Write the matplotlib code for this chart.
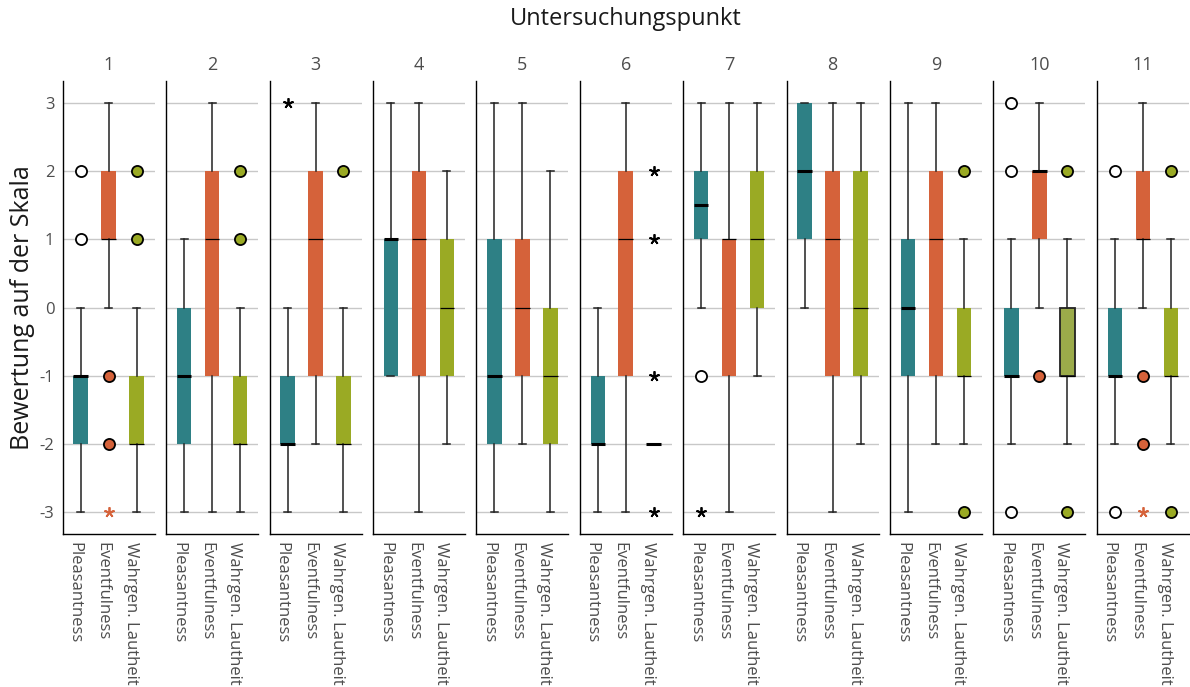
import matplotlib
matplotlib.use('Agg')
import matplotlib.pyplot as plt
import matplotlib.transforms as mtransforms

plt.rcParams['font.family'] = ['Open Sans', 'DejaVu Sans']
plt.rcParams['axes.unicode_minus'] = False

# Survey points and the three rated scales
points = [str(i) for i in range(1, 12)]
scales = ['Pleasantness', 'Eventfulness', 'Wahrgen. Lautheit']

# Box statistics per scale, one value per survey point
q1 = {
    'Pleasantness':      [-2, -2, -2, -1, -2, -2, 1, 1, -1, -1, -1],
    'Eventfulness':      [1, -1, -1, -1, -1, -1, -1, -1, -1, 1, 1],
    'Wahrgen. Lautheit': [-2, -2, -2, -1, -2, -2, 0, -1, -1, -1, -1],
}
median = {
    'Pleasantness':      [-1, -1, -2, 1, -1, -2, 1.5, 2, 0, -1, -1],
    'Eventfulness':      [1, 1, 1, 1, 0, 1, 1, 1, 1, 2, 1],
    'Wahrgen. Lautheit': [-2, -2, -2, 0, -1, -2, 1, 0, -1, -1, -1],
}
q3 = {
    'Pleasantness':      [-1, 0, -1, 1, 1, -1, 2, 3, 1, 0, 0],
    'Eventfulness':      [2, 2, 2, 2, 1, 2, 1, 2, 2, 2, 2],
    'Wahrgen. Lautheit': [-1, -1, -1, 1, 0, -2, 2, 2, 0, 0, 0],
}
whisker_low = {
    'Pleasantness':      [-3, -3, -3, -1, -3, -3, 0, 0, -3, -2, -2],
    'Eventfulness':      [0, -3, -2, -3, -2, -3, -3, -3, -2, 0, 0],
    'Wahrgen. Lautheit': [-3, -3, -3, -2, -3, -2, -1, -2, -2, -2, -2],
}
whisker_high = {
    'Pleasantness':      [0, 1, 0, 3, 3, 0, 3, 3, 3, 1, 1],
    'Eventfulness':      [3, 3, 3, 3, 3, 3, 3, 3, 3, 3, 3],
    'Wahrgen. Lautheit': [0, 0, 0, 2, 2, -2, 3, 3, 1, 1, 1],
}

# Outliers (circles) and extreme values (asterisks): (point index, value)
outliers = {
    'Pleasantness':      [(0, 1), (0, 2), (6, -1), (9, 3), (9, 2), (9, -3), (10, 2), (10, -3)],
    'Eventfulness':      [(0, -1), (0, -2), (9, -1), (10, -1), (10, -2)],
    'Wahrgen. Lautheit': [(0, 1), (0, 2), (1, 1), (1, 2), (2, 2), (8, 2), (8, -3),
                          (9, 2), (9, -3), (10, 2), (10, -3)],
}
extremes = {
    'Pleasantness':      [(2, 3), (6, -3)],
    'Eventfulness':      [(0, -3), (10, -3)],
    'Wahrgen. Lautheit': [(5, 2), (5, 1), (5, -1), (5, -3)],
}

colors = {'Pleasantness': '#2e8085', 'Eventfulness': '#d5623a', 'Wahrgen. Lautheit': '#9aaa24'}
flier_face = {'Pleasantness': 'white', 'Eventfulness': '#d5623a', 'Wahrgen. Lautheit': '#9aaa24'}
star_color = {'Pleasantness': 'black', 'Eventfulness': '#d5623a', 'Wahrgen. Lautheit': 'black'}
thick_median = {'Pleasantness': True, 'Eventfulness': False, 'Wahrgen. Lautheit': False}
thick_extra = [(5, 'Wahrgen. Lautheit'), (9, 'Eventfulness')]
outlined = [(9, 'Wahrgen. Lautheit')]

grey = '#4d4d4d'

fig, axes = plt.subplots(1, 11, sharey=True, figsize=(11.9, 6.87), dpi=100)
fig.subplots_adjust(left=0.0527, right=0.999, top=0.882, bottom=0.2227, wspace=0.124)

# nudge the rotated category labels a little to the left of their ticks
label_shift = mtransforms.ScaledTranslation(-6 / 100, 0, fig.dpi_scale_trans)

for p, ax in enumerate(axes):
    for k, s in enumerate(scales):
        pos = k + 1
        stats = dict(q1=q1[s][p], med=median[s][p], q3=q3[s][p],
                     whislo=whisker_low[s][p], whishi=whisker_high[s][p], fliers=[])
        thick = thick_median[s] or (p, s) in thick_extra
        face = colors[s]
        edge = 'none'
        if (p, s) in outlined:
            face = '#9bab4a'
            edge = '#222222'
        ax.bxp([stats], positions=[pos], widths=0.52, patch_artist=True,
               showfliers=False, capwidths=0.25,
               boxprops=dict(facecolor=face, edgecolor=edge, linewidth=1.3),
               medianprops=dict(color='black', linewidth=2.2 if thick else 0.9,
                                solid_capstyle='butt'),
               whiskerprops=dict(color='#222222', linewidth=1.1),
               capprops=dict(color='#222222', linewidth=1.1))

        ys = [v for i, v in outliers[s] if i == p]
        if ys:
            ax.plot([pos] * len(ys), ys, 'o', ms=8, mfc=flier_face[s],
                    mec='black', mew=1.3, zorder=4)
        ys = [v for i, v in extremes[s] if i == p]
        if ys:
            ax.plot([pos] * len(ys), ys, ls='none', marker=(5, 2, 0), ms=7.5,
                    mec=star_color[s], mew=1.3, zorder=4)

    ax.set_xlim(0.355, 3.645)
    ax.set_ylim(-3.32, 3.32)
    ax.set_yticks(range(-3, 4))
    ax.set_xticks([1, 2, 3])
    ax.set_xticklabels(scales, rotation=-90, ha='center', va='top',
                       fontsize=12, color=grey)
    ax.yaxis.grid(True, color='#c8c8c8', linewidth=1.0)
    ax.set_axisbelow(True)
    for side in ('top', 'right'):
        ax.spines[side].set_visible(False)
    for side in ('left', 'bottom'):
        ax.spines[side].set_color('black')
        ax.spines[side].set_linewidth(1.0)
    ax.tick_params(length=0, pad=6, labelsize=12, labelcolor=grey)
    for lab in ax.get_xticklabels():
        lab.set_transform(lab.get_transform() + label_shift)
    ax.set_title(points[p], fontsize=13, color=grey, pad=8)

fig.text(0.5258, 0.972, 'Untersuchungspunkt', ha='center', va='center',
         fontsize=17, color='#1a1a1a')
fig.text(0.019, 0.5524, 'Bewertung auf der Skala', rotation=90, ha='center',
         va='center', fontsize=18, color='#1a1a1a')

fig.savefig('out.png', dpi=100)
